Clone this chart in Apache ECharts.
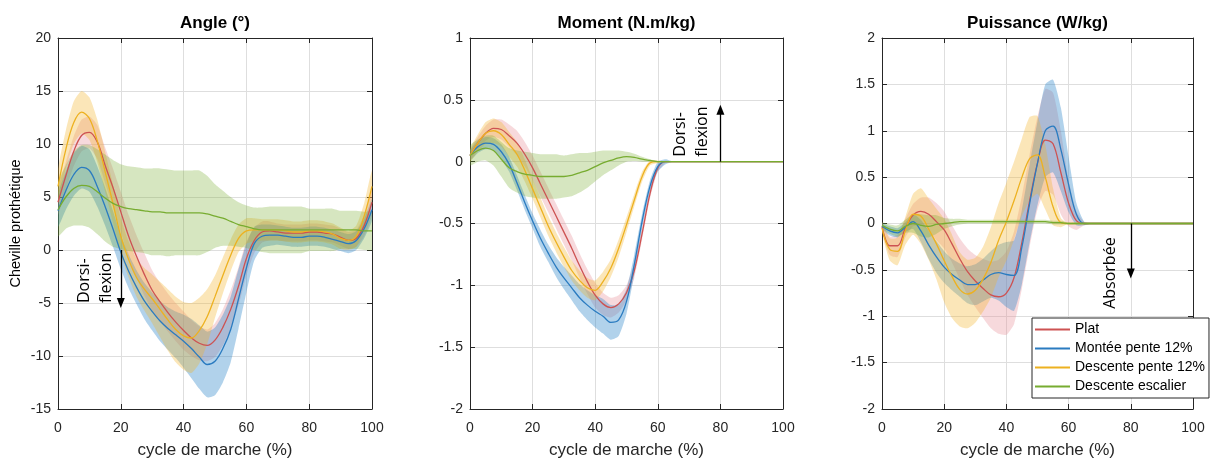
<!DOCTYPE html>
<html>
<head>
<meta charset="utf-8">
<script src="https://cdn.jsdelivr.net/npm/echarts@6/dist/echarts.min.js"></script>
<style>html,body{margin:0;padding:0;background:#fff;}#c{width:1210px;height:464px;}</style>
</head>
<body>
<div id="c"></div>
<script>
// ---------- data ----------
const X = [0,2.5,5,7.5,10,12.5,15,17.5,20,22.5,25,27.5,30,32.5,35,37.5,40,42.5,45,47.5,50,52.5,55,57.5,60,62.5,65,67.5,70,72.5,75,77.5,80,82.5,85,87.5,90,92.5,95,97.5,100];
const names = ['Plat','Montée pente 12%','Descente pente 12%','Descente escalier'];
const titles = ['Angle (°)','Moment (N.m/kg)','Puissance (W/kg)'];
const xTicks = [0,20,40,60,80,100];

// Angle (deg)
const angPlat   = [4.5,7.0,9.3,10.8,11.1,10.2,8.0,5.9,3.6,1.3,-0.6,-2.3,-3.8,-4.9,-5.9,-6.8,-7.6,-8.3,-8.8,-9.0,-8.5,-7.3,-5.6,-3.4,-0.8,0.9,1.7,1.8,1.7,1.6,1.6,1.6,1.7,1.7,1.6,1.5,1.2,0.9,1.1,2.3,4.5];
const angPlatSd = [1.2,1.3,1.4,1.5,1.5,1.6,1.7,1.8,1.9,2.0,2.0,2.0,1.9,1.8,1.8,1.8,1.8,1.7,1.6,1.5,1.6,1.7,1.8,1.8,1.6,1.2,1.0,0.9,0.8,0.8,0.8,0.8,0.8,0.8,0.8,0.8,0.8,0.8,0.8,1.0,1.2];
const angMont   = [3.7,5.6,7.1,7.8,7.5,6.0,4.1,2.0,-0.2,-2.0,-3.5,-4.8,-5.8,-6.7,-7.4,-8.0,-8.6,-9.3,-10.1,-10.8,-10.5,-9.3,-7.5,-4.6,-1.7,0.6,1.3,1.4,1.4,1.3,1.2,1.2,1.3,1.3,1.2,1.0,0.8,0.6,0.9,2.0,3.8];
const angMontSd = [1.5,1.8,2.0,2.0,2.0,1.9,1.8,1.7,1.6,1.6,1.6,1.7,1.8,1.9,2.0,2.2,2.5,2.8,3.0,3.1,3.2,3.2,3.1,2.8,2.3,1.6,1.1,1.0,0.9,0.9,0.9,0.9,0.9,0.9,0.9,0.9,0.9,0.9,0.9,0.9,1.0];
const angDesc   = [6.0,9.5,12.0,13.0,12.4,10.3,7.4,4.4,1.3,-0.9,-2.6,-3.7,-4.6,-5.6,-6.6,-7.5,-8.1,-8.3,-7.6,-6.3,-4.4,-2.4,-0.5,1.1,1.8,1.9,1.9,1.9,1.9,1.8,1.7,1.7,1.8,1.8,1.7,1.5,1.1,0.9,1.3,3.2,6.0];
const angDescSd = [1.5,1.8,2.0,2.0,2.0,2.0,1.9,1.8,1.7,1.7,1.8,2.0,2.3,2.6,2.9,3.1,3.2,3.3,3.1,2.6,2.0,1.7,1.5,1.3,1.2,1.1,1.0,1.0,1.0,1.0,1.0,1.0,1.0,1.0,1.0,1.0,1.0,0.9,1.0,1.2,1.5];
const angEsc    = [3.8,5.0,5.8,6.1,6.0,5.5,4.9,4.4,4.1,3.9,3.8,3.7,3.6,3.6,3.5,3.5,3.5,3.5,3.5,3.4,3.2,3.0,2.7,2.4,2.2,2.0,1.9,1.9,1.9,1.9,1.9,1.9,1.9,1.9,1.9,1.9,1.9,1.9,1.9,1.8,1.8];
const angEscSd  = [2.5,3.0,3.5,3.8,3.9,4.0,4.1,4.1,4.0,4.0,4.0,4.0,4.1,4.1,4.1,4.0,4.0,4.0,4.0,3.6,3.0,2.6,2.3,2.1,2.0,2.0,2.1,2.2,2.2,2.2,2.2,2.2,2.0,2.0,2.0,2.0,1.8,1.8,1.8,1.8,1.8];

// Moment (N.m/kg)
const momPlat   = [0.05,0.15,0.23,0.27,0.26,0.21,0.15,0.06,-0.05,-0.18,-0.31,-0.44,-0.57,-0.70,-0.84,-0.97,-1.08,-1.15,-1.18,-1.15,-1.06,-0.88,-0.58,-0.26,-0.05,0,0,0,0,0,0,0,0,0,0,0,0,0,0,0,0];
const momPlatSd = [0.04,0.05,0.06,0.07,0.08,0.09,0.10,0.10,0.10,0.10,0.10,0.10,0.10,0.10,0.10,0.10,0.10,0.09,0.08,0.07,0.06,0.06,0.05,0.04,0.03,0.01,0,0,0,0,0,0,0,0,0,0,0,0,0,0,0];
const momMont   = [0.05,0.12,0.15,0.14,0.08,-0.02,-0.17,-0.33,-0.48,-0.62,-0.74,-0.85,-0.94,-1.02,-1.10,-1.16,-1.21,-1.25,-1.30,-1.28,-1.13,-0.83,-0.48,-0.20,-0.04,0,0,0,0,0,0,0,0,0,0,0,0,0,0,0,0];
const momMontSd = [0.04,0.05,0.05,0.05,0.06,0.06,0.06,0.06,0.06,0.07,0.07,0.08,0.09,0.10,0.11,0.12,0.13,0.14,0.14,0.13,0.10,0.08,0.06,0.05,0.04,0.02,0,0,0,0,0,0,0,0,0,0,0,0,0,0,0];
const momDesc   = [0.05,0.15,0.23,0.25,0.22,0.14,0.06,-0.07,-0.22,-0.37,-0.52,-0.65,-0.77,-0.88,-0.96,-1.02,-1.04,-0.97,-0.86,-0.70,-0.51,-0.31,-0.12,-0.01,0,0,0,0,0,0,0,0,0,0,0,0,0,0,0,0,0];
const momDescSd = [0.05,0.07,0.09,0.10,0.10,0.10,0.10,0.09,0.08,0.08,0.08,0.08,0.08,0.08,0.08,0.08,0.08,0.08,0.07,0.07,0.06,0.05,0.04,0.02,0.01,0,0,0,0,0,0,0,0,0,0,0,0,0,0,0,0];
const momEsc    = [0.05,0.09,0.11,0.09,0.02,-0.05,-0.08,-0.10,-0.11,-0.12,-0.12,-0.12,-0.12,-0.11,-0.09,-0.07,-0.04,-0.01,0.01,0.03,0.04,0.035,0.02,0.01,0,0,0,0,0,0,0,0,0,0,0,0,0,0,0,0,0];
const momEscSd  = [0.08,0.09,0.10,0.12,0.14,0.16,0.17,0.18,0.18,0.18,0.18,0.18,0.17,0.17,0.16,0.14,0.12,0.10,0.08,0.06,0.04,0.03,0.02,0.01,0.005,0,0,0,0,0,0,0,0,0,0,0,0,0,0,0,0];

// Puissance (W/kg)
const powPlat   = [-0.03,-0.24,-0.24,-0.05,0.09,0.13,0.10,0.02,-0.07,-0.22,-0.38,-0.52,-0.62,-0.70,-0.77,-0.79,-0.75,-0.58,-0.20,0.25,0.65,0.90,0.86,0.55,0.22,0.03,0,0,0,0,0,0,0,0,0,0,0,0,0,0,0];
const powPlatSd = [0.05,0.10,0.12,0.10,0.12,0.15,0.18,0.20,0.20,0.20,0.22,0.25,0.28,0.32,0.36,0.40,0.45,0.50,0.50,0.50,0.50,0.55,0.55,0.45,0.25,0.10,0.02,0,0,0,0,0,0,0,0,0,0,0,0,0,0];
const powMont   = [-0.03,-0.08,-0.10,-0.04,0.02,-0.08,-0.23,-0.36,-0.47,-0.55,-0.61,-0.66,-0.66,-0.61,-0.55,-0.53,-0.55,-0.56,-0.25,0.22,0.65,1.00,1.05,0.80,0.42,0.10,0,0,0,0,0,0,0,0,0,0,0,0,0,0,0];
const powMontSd = [0.03,0.05,0.05,0.05,0.08,0.12,0.15,0.17,0.17,0.17,0.18,0.20,0.22,0.23,0.25,0.30,0.35,0.38,0.40,0.42,0.45,0.50,0.50,0.45,0.30,0.12,0.02,0,0,0,0,0,0,0,0,0,0,0,0,0,0];
const powDesc   = [-0.05,-0.28,-0.30,-0.08,0.10,0.08,-0.06,-0.22,-0.40,-0.57,-0.71,-0.76,-0.72,-0.60,-0.42,-0.18,0.02,0.25,0.50,0.70,0.74,0.50,0.18,0.01,0,0,0,0,0,0,0,0,0,0,0,0,0,0,0,0,0];
const powDescSd = [0.05,0.12,0.15,0.15,0.22,0.30,0.33,0.38,0.45,0.45,0.40,0.37,0.35,0.35,0.38,0.40,0.42,0.42,0.42,0.45,0.42,0.35,0.20,0.05,0,0,0,0,0,0,0,0,0,0,0,0,0,0,0,0,0];
const powEsc    = [-0.02,-0.06,-0.08,-0.03,0.0,-0.02,-0.03,-0.01,0.0,0.01,0.02,0.02,0.02,0.02,0.02,0.02,0.02,0.02,0.02,0.02,0.02,0.02,0.01,0.01,0,0,0,0,0,0,0,0,0,0,0,0,0,0,0,0,0];
const powEscSd  = [0.03,0.05,0.06,0.07,0.10,0.12,0.12,0.10,0.06,0.04,0.03,0.02,0.02,0.02,0.02,0.02,0.02,0.02,0.02,0.02,0.02,0.02,0.02,0.02,0.01,0.01,0.01,0.01,0.01,0.01,0.01,0.01,0.01,0.01,0.01,0.01,0.01,0.01,0.01,0.01,0.01];

// ---------- styling ----------
const lineColors = ['#CD5252','#2A7BC0','#EDB120','#77AC30'];
const bandColors = ['rgba(232,140,150,0.33)','rgba(40,130,200,0.36)','rgba(242,180,40,0.33)','rgba(119,172,48,0.30)'];
const panels = [
  {means:[angPlat,angMont,angDesc,angEsc], sds:[angPlatSd,angMontSd,angDescSd,angEscSd], min:-15, max:20, interval:5,
   arrow:{x:20, from:0, to:-5}, text:{x:11.8, y:-5.0, s:'Dorsi-\nflexion'}},
  {means:[momPlat,momMont,momDesc,momEsc], sds:[momPlatSd,momMontSd,momDescSd,momEscSd], min:-2, max:1, interval:0.5,
   arrow:{x:80, from:0, to:0.42}, text:{x:70.6, y:0.04, s:'Dorsi-\nflexion'}},
  {means:[powPlat,powMont,powDesc,powEsc], sds:[powPlatSd,powMontSd,powDescSd,powEscSd], min:-2, max:2, interval:0.5,
   arrow:{x:80, from:0, to:-0.54}, text:{x:73.5, y:-0.92, s:'Absorbée'}}
];
const gridLeft = [58, 470, 882];
const gridWidth = [314, 313, 311];
const AX = '#262626';
const FONT = '"Liberation Sans", Arial, sans-serif';

const grids = [], xAxes = [], yAxes = [], series = [], titleArr = [];
panels.forEach((p, k) => {
  grids.push({left: gridLeft[k], top: 38, width: gridWidth[k], height: 375, containLabel: false});
  titleArr.push({text: titles[k], left: gridLeft[k] + gridWidth[k] / 2, top: 15, textAlign: 'center', padding: 0,
    textStyle: {fontSize: 17, fontWeight: 'bold', color: '#000', fontFamily: FONT}});
  const tick = {show: true, inside: true, length: 5, lineStyle: {color: AX, width: 1}};
  const line = {show: true, onZero: false, lineStyle: {color: AX, width: 1}};
  xAxes.push({gridIndex: k, type: 'value', min: 0, max: 100, interval: 20, position: 'bottom',
    axisLine: line, axisTick: tick,
    axisLabel: {fontSize: 14, color: AX, margin: 12, fontFamily: FONT},
    splitLine: {show: true, lineStyle: {color: '#dedede', width: 1}},
    name: 'cycle de marche (%)', nameLocation: 'middle', nameGap: 33,
    nameTextStyle: {fontSize: 17, color: AX, fontFamily: FONT}});
  xAxes.push({gridIndex: k, type: 'value', min: 0, max: 100, interval: 20, position: 'top',
    axisLine: line, axisTick: tick, axisLabel: {show: false}, splitLine: {show: false}});
  const ym = {gridIndex: k, type: 'value', min: p.min, max: p.max, interval: p.interval, position: 'left',
    axisLine: line, axisTick: tick,
    axisLabel: {fontSize: 14, color: AX, margin: 7, fontFamily: FONT},
    splitLine: {show: true, lineStyle: {color: '#dedede', width: 1}}};
  if (k === 0) {
    ym.name = 'Cheville prothétique'; ym.nameLocation = 'middle'; ym.nameGap = 35;
    ym.nameTextStyle = {fontSize: 14.5, color: '#000', fontFamily: FONT};
  }
  yAxes.push(ym);
  yAxes.push({gridIndex: k, type: 'value', min: p.min, max: p.max, interval: p.interval, position: 'right',
    axisLine: line, axisTick: tick, axisLabel: {show: false}, splitLine: {show: false}});

  // bands (mean ± sd)
  p.means.forEach((m, j) => {
    const s = p.sds[j];
    series.push({
      type: 'custom', xAxisIndex: 2 * k, yAxisIndex: 2 * k, silent: true, clip: true, z: 1,
      data: [[0, 0]],
      renderItem: (params, api) => {
        const up = X.map((x, i) => api.coord([x, m[i] + s[i]]));
        const dn = X.map((x, i) => api.coord([x, m[i] - s[i]])).reverse();
        return {type: 'polygon', shape: {points: up.concat(dn), smooth: 0.2}, style: {fill: bandColors[j]}};
      }
    });
  });
  // mean lines
  p.means.forEach((m, j) => {
    const sr = {
      type: 'line', name: names[j], xAxisIndex: 2 * k, yAxisIndex: 2 * k, z: 3,
      data: X.map((x, i) => [x, m[i]]), showSymbol: false, symbol: 'none', smooth: 0.35,
      lineStyle: {color: lineColors[j], width: 1.3}, itemStyle: {color: lineColors[j]},
      silent: true, animation: false
    };
    if (j === 3) {
      sr.markLine = {silent: true, symbol: ['none', 'triangle'], symbolSize: [8, 10], animation: false,
        lineStyle: {color: '#000', width: 1.3, type: 'solid'}, label: {show: false},
        data: [[{coord: [p.arrow.x, p.arrow.from]}, {coord: [p.arrow.x, p.arrow.to]}]]};
    }
    series.push(sr);
  });
});

const chart = echarts.init(document.getElementById('c'), null, {renderer: 'canvas'});
chart.setOption({
  animation: false,
  backgroundColor: '#fff',
  title: titleArr,
  grid: grids, xAxis: xAxes, yAxis: yAxes, series: series,
  legend: {
    data: names, orient: 'vertical', left: 1032, top: 318, z: 10,
    backgroundColor: '#fff', borderColor: AX, borderWidth: 1, borderRadius: 0,
    padding: [3, 4, 3, 3], itemWidth: 35, itemHeight: 2, itemGap: 2, icon: 'rect',
    selectedMode: false,
    textStyle: {fontSize: 14, color: '#000', lineHeight: 17, fontFamily: FONT}
  }
});

// text annotations placed through the axes' own scales
const graphics = panels.map((p, k) => {
  const pt = chart.convertToPixel({xAxisIndex: 2 * k, yAxisIndex: 2 * k}, [p.text.x, p.text.y]);
  return {type: 'text', x: pt[0], y: pt[1], rotation: Math.PI / 2, z: 20, silent: true,
    style: {text: p.text.s, x: 0, y: 0, align: 'left', verticalAlign: 'middle',
      fontSize: 16, fontFamily: '"Open Sans", "Noto Sans", sans-serif', lineHeight: 22, fill: '#000'}};
});
chart.setOption({graphic: graphics});
</script>
</body>
</html>
